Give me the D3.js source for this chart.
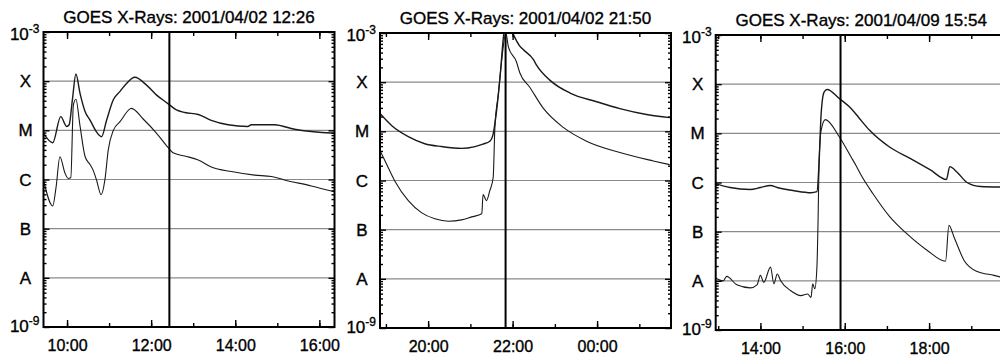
<!DOCTYPE html>
<html>
<head>
<meta charset="utf-8">
<script src="https://cdn.jsdelivr.net/npm/d3@7"></script>
<style>
  body { margin: 0; background: #fff; }
  svg { display: block; font-family: "Liberation Sans", Arial, Helvetica, sans-serif; }
  svg text { stroke: #000; stroke-width: 0.35px; fill: #000; }
</style>
</head>
<body>
<div id="chart"></div>
<script>
// GOES flux traces, [hour of day, W/m^2]; hours > 24 are on the next day
var p1Long = [[9.44, 8.7e-6], [9.66, 5.6e-6], [9.85, 1.9e-5], [9.99, 1.2e-5], [10.05, 1.3e-5],
  [10.13, 4.4e-5], [10.21, 1.4e-4], [10.31, 5.6e-5], [10.43, 2.4e-5], [10.55, 1.6e-5],
  [10.70, 9.3e-6], [10.82, 7.4e-6], [10.94, 1.6e-5], [11.10, 4.2e-5], [11.26, 6.2e-5],
  [11.42, 9.1e-5], [11.61, 1.2e-4], [11.89, 8.3e-5], [12.13, 5.2e-5], [12.40, 3.5e-5],
  [12.60, 2.6e-5], [12.80, 2.3e-5], [13.12, 2.1e-5], [13.43, 1.6e-5], [13.83, 1.3e-5],
  [14.30, 1.2e-5], [14.38, 1.3e-5], [14.93, 1.3e-5], [15.41, 1.05e-5], [16.36, 8.7e-6]];
var p1Short = [[9.44, 9.8e-7], [9.66, 2.9e-7], [9.74, 7.1e-7], [9.83, 2.9e-6], [9.95, 1.35e-6],
  [10.03, 1.05e-6], [10.09, 1.1e-6], [10.15, 3.3e-5], [10.21, 4.3e-5], [10.31, 1.2e-5],
  [10.43, 2.9e-6], [10.55, 2.0e-6], [10.62, 1.55e-6], [10.70, 9.8e-7], [10.81, 4.9e-7],
  [10.90, 9.8e-7], [10.98, 4.0e-6], [11.10, 1.0e-5], [11.26, 1.5e-5], [11.49, 2.7e-5],
  [11.53, 2.8e-5], [11.81, 1.7e-5], [12.13, 8.7e-6], [12.40, 4.5e-6], [12.52, 3.5e-6],
  [12.80, 3.0e-6], [13.12, 2.5e-6], [13.43, 1.8e-6], [13.91, 1.45e-6], [14.46, 1.23e-6],
  [14.86, 1.15e-6], [15.17, 9.8e-7], [15.81, 7.4e-7], [16.36, 5.6e-7]];

var p2Long = [[18.86, 2.3e-5], [19.14, 1.3e-5], [19.53, 7.8e-6], [19.92, 5.6e-6], [20.32, 4.9e-6],
  [20.79, 4.5e-6], [21.11, 4.9e-6], [21.30, 5.5e-6], [21.46, 6.3e-6], [21.54, 8.9e-6],
  [21.62, 2.6e-5], [21.70, 1.2e-4], [21.78, 7.9e-4], [21.85, 2.0e-3], [22.00, 1.0e-3],
  [22.17, 5.4e-4], [22.25, 4.6e-4], [22.49, 2.9e-4], [22.57, 2.2e-4], [22.88, 1.1e-4],
  [23.36, 6.0e-5], [23.99, 4.0e-5], [24.54, 2.9e-5], [25.17, 2.2e-5], [25.72, 1.9e-5]];
var p2Short = [[18.86, 4.1e-6], [18.98, 2.5e-6], [19.21, 9.8e-7], [19.53, 3.9e-7], [19.85, 2.2e-7],
  [20.16, 1.66e-7], [20.48, 1.48e-7], [20.79, 1.58e-7], [21.03, 1.82e-7], [21.27, 2.1e-7],
  [21.30, 5.2e-7], [21.38, 3.9e-7], [21.46, 6.2e-7], [21.54, 1.15e-6], [21.58, 1.2e-5],
  [21.66, 5.6e-5], [21.74, 2.7e-4], [21.84, 1.0e-3], [21.90, 5.2e-4], [22.09, 2.6e-4],
  [22.17, 1.55e-4], [22.41, 7.8e-5], [22.72, 3.0e-5], [23.20, 1.2e-5], [23.75, 6.3e-6],
  [24.54, 3.7e-6], [25.33, 2.5e-6], [25.72, 2.1e-6]];

var p3Long = [[12.92, 9.5e-7], [13.28, 7.9e-7], [13.76, 7.2e-7], [14.00, 7.9e-7], [14.24, 8.7e-7],
  [14.40, 7.9e-7], [14.80, 6.8e-7], [15.20, 6.2e-7], [15.34, 6.5e-7], [15.39, 2.4e-6],
  [15.44, 2.5e-5], [15.51, 6.9e-5], [15.58, 7.8e-5], [15.87, 5.1e-5], [16.15, 3.2e-5],
  [16.33, 2.1e-5], [16.59, 1.15e-5], [17.07, 5.2e-6], [17.55, 3.1e-6], [18.03, 1.8e-6],
  [18.41, 1.15e-6], [18.49, 2.1e-6], [18.67, 1.6e-6], [18.90, 1.0e-6], [19.22, 8.3e-7],
  [19.74, 8.1e-7]];
var p3Short = [[12.92, 1.17e-8], [13.12, 1.0e-8], [13.20, 1.23e-8], [13.44, 8.3e-9], [13.76, 7.2e-9],
  [13.92, 8.3e-9], [14.00, 1.29e-8], [14.08, 9.3e-9], [14.24, 1.9e-8], [14.32, 8.7e-9],
  [14.40, 1.38e-8], [14.48, 1.0e-8], [14.72, 6.3e-9], [14.96, 5.0e-9], [15.12, 5.4e-9],
  [15.20, 4.6e-9], [15.24, 8.7e-9], [15.29, 6.9e-9], [15.34, 1.9e-8], [15.37, 2.3e-7],
  [15.39, 2.4e-6], [15.44, 1.15e-5], [15.54, 1.9e-5], [15.87, 8.5e-6], [16.15, 3.3e-6],
  [16.27, 2.2e-6], [16.39, 1.4e-6], [16.67, 5.9e-7], [17.07, 2.0e-7], [17.47, 9.1e-8],
  [17.95, 4.2e-8], [18.39, 2.5e-8], [18.47, 1.35e-7], [18.59, 7.8e-8], [18.83, 2.6e-8],
  [19.14, 1.55e-8], [19.54, 1.29e-8], [19.74, 1.17e-8]];

var titles = ["GOES X-Rays: 2001/04/02 12:26", "GOES X-Rays: 2001/04/02 21:50", "GOES X-Rays: 2001/04/09 15:54"];
var days = [2, 2, 9];             // April 2001
var startHours = [9.44, 18.86, 12.94];
var endHours = [16.36, 25.75, 19.84];
var eventHours = [12 + 26 / 60, 21 + 50 / 60, 15 + 54 / 60];
var classLabels = ["X", "M", "C", "B", "A"];
var classFlux = [1e-4, 1e-5, 1e-6, 1e-7, 1e-8];

var longSeries = [p1Long, p2Long, p3Long];
var shortSeries = [p1Short, p2Short, p3Short];

// panel placement
var panels = [{left: 43.5, top: 32}, {left: 380, top: 33}, {left: 715.7, top: 35}];
var W = 291, H = 295;

var svg = d3.select("#chart").append("svg")
  .attr("width", 1000)
  .attr("height", 356);
svg.append("rect").attr("width", 1000).attr("height", 356).attr("fill", "#fff");

function toDate(day, h) {
  return new Date(Date.UTC(2001, 3, day) + h * 36e5);
}

var minorFlux = [];
for (var e = -9; e < -3; e++) {
  for (var k = 2; k <= 9; k++) minorFlux.push(k * Math.pow(10, e));
}

function drawPanel(i) {
  var p = panels[i], day = days[i];
  var x = d3.scaleUtc()
    .domain([toDate(day, startHours[i]), toDate(day, endHours[i])])
    .range([0, W]);
  var y = d3.scaleLog().domain([1e-9, 1e-3]).range([H, 0]);

  var g = svg.append("g").attr("transform", "translate(" + p.left + "," + p.top + ")");

  g.append("clipPath").attr("id", "clip" + i)
    .append("rect").attr("width", W).attr("height", H);

  // class grid lines
  g.selectAll(".grid").data(classFlux).enter().append("line")
    .attr("x1", 0).attr("x2", W)
    .attr("y1", function(d) { return y(d); })
    .attr("y2", function(d) { return y(d); })
    .attr("stroke", "#8a8a8a").attr("stroke-width", 1.2);

  var line = d3.line()
    .x(function(d) { return x(toDate(day, d[0])); })
    .y(function(d) { return y(d[1]); })
    .curve(d3.curveMonotoneX);

  var curves = g.append("g").attr("clip-path", "url(#clip" + i + ")");
  curves.append("path").datum(longSeries[i])
    .attr("d", line).attr("fill", "none")
    .attr("stroke", "#1a1a1a").attr("stroke-width", 1.4);
  curves.append("path").datum(shortSeries[i])
    .attr("d", line).attr("fill", "none")
    .attr("stroke", "#1a1a1a").attr("stroke-width", 1.1);

  // event marker
  var ex = x(toDate(day, eventHours[i]));
  g.append("line").attr("x1", ex).attr("x2", ex).attr("y1", 0).attr("y2", H)
    .attr("stroke", "#000").attr("stroke-width", 2);

  // ticks, all pointing inward
  var axes = [
    [d3.axisBottom(x).ticks(d3.utcHour.every(2)).tickFormat(d3.utcFormat("%H:%M")).tickSize(-7).tickPadding(13), H, 0],
    [d3.axisBottom(x).ticks(d3.utcHour.every(1)).tickFormat("").tickSize(-4), H, 0],
    [d3.axisTop(x).ticks(d3.utcHour.every(2)).tickFormat("").tickSize(-7), 0, 0],
    [d3.axisTop(x).ticks(d3.utcHour.every(1)).tickFormat("").tickSize(-4), 0, 0],
    [d3.axisLeft(y).tickValues([1e-9, 1e-8, 1e-7, 1e-6, 1e-5, 1e-4, 1e-3]).tickFormat("").tickSize(-6), 0, 0],
    [d3.axisLeft(y).tickValues(minorFlux).tickFormat("").tickSize(-3), 0, 0],
    [d3.axisRight(y).tickValues([1e-9, 1e-8, 1e-7, 1e-6, 1e-5, 1e-4, 1e-3]).tickFormat("").tickSize(-6), 0, W],
    [d3.axisRight(y).tickValues(minorFlux).tickFormat("").tickSize(-3), 0, W]
  ];
  axes.forEach(function(a) {
    var ax = g.append("g")
      .attr("transform", "translate(" + a[2] + "," + a[1] + ")")
      .call(a[0].tickSizeOuter(0));
    ax.select(".domain").remove();
    ax.selectAll(".tick line").attr("stroke", "#000").attr("stroke-width", 1.4);
    ax.attr("font-size", 16).attr("font-family", null);
  });

  // frame
  g.append("rect").attr("width", W).attr("height", H)
    .attr("fill", "none").attr("stroke", "#000").attr("stroke-width", 2);

  // flare class labels
  g.selectAll(".cls").data(classLabels).enter().append("text")
    .attr("x", -18)
    .attr("y", function(d, j) { return y(classFlux[j]); })
    .attr("dy", "0.36em")
    .attr("text-anchor", "middle")
    .attr("font-size", 17)
    .text(function(d) { return d; });

  var top = g.append("text").attr("x", -4).attr("y", 7.5)
    .attr("text-anchor", "end").attr("font-size", 17);
  top.append("tspan").text("10");
  top.append("tspan").attr("dy", -7).attr("font-size", 12).text("-3");
  var bot = g.append("text").attr("x", -4).attr("y", H + 4.5)
    .attr("text-anchor", "end").attr("font-size", 17);
  bot.append("tspan").text("10");
  bot.append("tspan").attr("dy", -7).attr("font-size", 12).text("-9");

  g.append("text")
    .attr("x", W / 2).attr("y", -9)
    .attr("text-anchor", "middle")
    .attr("font-size", 17)
    .text(titles[i]);
}

for (var i = 0; i < 3; i++) drawPanel(i);
</script>
</body>
</html>
